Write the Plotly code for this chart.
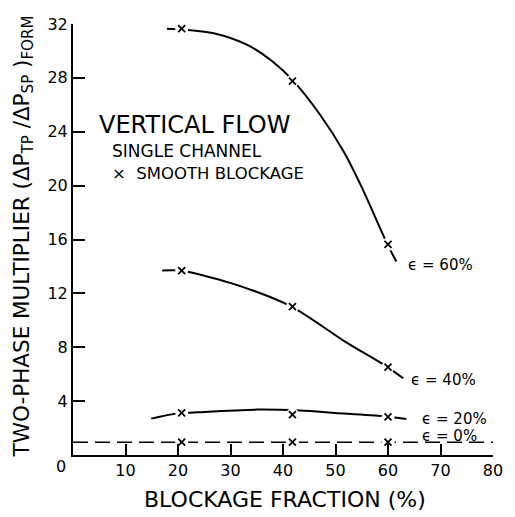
import plotly.graph_objects as go

# Measured points (blockage fraction %, two-phase multiplier)
blockage = [20.7, 41.8, 60.0]
mult_eps60 = [31.65, 27.76, 15.64]
mult_eps40 = [13.69, 11.02, 6.53]
mult_eps20 = [3.13, 3.00, 2.83]
mult_eps0 = [0.95, 0.95, 0.95]

# Faired curves drawn through the data
curve60_x = [17.9, 20.7, 27.0, 33.2, 37.9, 42.0, 47.0, 51.6, 55.1, 59.9, 61.6]
curve60_y = [31.65, 31.6, 31.3, 30.45, 29.25, 27.76, 25.3, 22.5, 19.8, 15.64, 14.36]
curve40_x = [17.0, 20.5, 30.1, 41.6, 51.9, 59.9, 62.9]
curve40_y = [13.7, 13.69, 12.76, 11.02, 8.4, 6.53, 5.7]
curve20_x = [14.9, 19.2, 25.0, 35.1, 43.2, 50.0, 59.1, 63.5]
curve20_y = [2.70, 3.05, 3.2, 3.37, 3.30, 3.12, 2.87, 2.68]
line0_x = [0, 80]
line0_y = [0.95, 0.95]

x_ticks = [10, 20, 30, 40, 50, 60, 70, 80]
y_ticks = [4, 8, 12, 16, 20, 24, 28, 32]

curve_labels = ["ϵ = 60%", "ϵ = 40%", "ϵ = 20%", "ϵ = 0%"]
label_pos = [(63.5, 14.1), (64.0, 5.6), (66.0, 2.7), (66.0, 1.4)]

FONT = "DejaVu Sans"
INK = "black"

fig = go.Figure()

for cx, cy in [(curve60_x, curve60_y), (curve40_x, curve40_y), (curve20_x, curve20_y)]:
    fig.add_trace(go.Scatter(x=cx, y=cy, mode="lines",
                             line=dict(color=INK, width=2, shape="spline", smoothing=0.8),
                             hoverinfo="skip", showlegend=False))

fig.add_trace(go.Scatter(x=line0_x, y=line0_y, mode="lines",
                         line=dict(color=INK, width=1.6, dash="15px,7px"),
                         hoverinfo="skip", showlegend=False))

for ys in [mult_eps60, mult_eps40, mult_eps20, mult_eps0]:
    # white halo breaks the curve around each point
    fig.add_trace(go.Scatter(x=blockage, y=ys, mode="markers",
                             marker=dict(symbol="circle", size=13, color="white", line=dict(width=0)),
                             hoverinfo="skip", showlegend=False))
    fig.add_trace(go.Scatter(x=blockage, y=ys, mode="markers",
                             marker=dict(symbol="x-thin", size=7, line=dict(color=INK, width=1.8)),
                             showlegend=False))

for text, (lx, ly) in zip(curve_labels, label_pos):
    fig.add_annotation(x=lx, y=ly, xref="x", yref="y", text=text, showarrow=False,
                       xanchor="left", yanchor="middle",
                       font=dict(family=FONT, size=15, color=INK))

fig.add_annotation(x=4.6, y=24.5, xref="x", yref="y", text="VERTICAL FLOW", showarrow=False,
                   xanchor="left", yanchor="middle", font=dict(family=FONT, size=24, color=INK))
fig.add_annotation(x=7.0, y=22.6, xref="x", yref="y", text="SINGLE CHANNEL", showarrow=False,
                   xanchor="left", yanchor="middle", font=dict(family=FONT, size=17, color=INK))
fig.add_annotation(x=7.0, y=20.9, xref="x", yref="y", text="×  SMOOTH BLOCKAGE", showarrow=False,
                   xanchor="left", yanchor="middle", font=dict(family=FONT, size=16.5, color=INK))

# shared origin label
fig.add_annotation(x=-0.0295, y=-0.027, xref="paper", yref="paper", text="0", showarrow=False,
                   xanchor="center", yanchor="middle", font=dict(family=FONT, size=16, color=INK))

fig.add_annotation(x=-0.119, y=0.507, xref="paper", yref="paper", textangle=-90,
                   text="TWO-PHASE MULTIPLIER (ΔP<sub>TP</sub> /ΔP<sub>SP</sub> )<sub>FORM</sub>",
                   showarrow=False, xanchor="center", yanchor="middle",
                   font=dict(family=FONT, size=21.5, color=INK))
fig.add_annotation(x=0.504, y=-0.103, xref="paper", yref="paper",
                   text="BLOCKAGE FRACTION (%)", showarrow=False,
                   xanchor="center", yanchor="middle",
                   font=dict(family=FONT, size=22, color=INK))

fig.update_layout(
    width=515, height=517,
    margin=dict(l=72.6, r=15.4, t=23.5, b=61.5),
    paper_bgcolor="white", plot_bgcolor="white",
    font=dict(family=FONT, color=INK),
    xaxis=dict(range=[0, 80], tickvals=x_ticks, ticktext=[str(v) for v in x_ticks],
               ticks="inside", ticklen=11, tickwidth=2, tickcolor=INK,
               showline=True, linecolor=INK, linewidth=2, mirror=False,
               showgrid=False, zeroline=False,
               tickfont=dict(family=FONT, size=16, color=INK)),
    yaxis=dict(range=[0, 32], tickvals=y_ticks, ticktext=[str(v) for v in y_ticks],
               ticks="inside", ticklen=12, tickwidth=2, tickcolor=INK,
               showline=True, linecolor=INK, linewidth=2, mirror=False,
               showgrid=False, zeroline=False,
               tickfont=dict(family=FONT, size=16, color=INK)),
)

fig.write_html("out.html")
